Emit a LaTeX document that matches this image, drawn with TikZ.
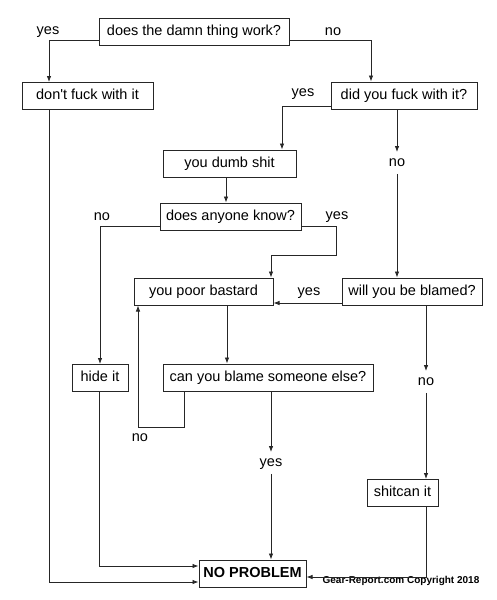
\documentclass[tikz,border=0pt]{standalone}
\usepackage{fontspec}
\setmainfont{Liberation Sans}
\usetikzlibrary{arrows.meta}

\def\questions{{(194,32)/work/190/does the damn thing work?}, {(87.5,96)/dont/131/don\textquotesingle t fuck with it}, {(404,95.5)/did/146/did you fuck with it?}, {(229.5,163.5)/dumb/133/you dumb shit}, {(230.5,216.5)/anyone/141/does anyone know?}, {(203.5,291.5)/poor/139/you poor bastard}, {(412,291.5)/blamed/140/will you be blamed?}, {(100,378)/hide/56/hide it}, {(268,377.5)/other/210/can you blame someone else?}, {(402.5,493)/shitcan/71/shitcan it}}
\def\answers{{(48,31)/work-yes/yes}, {(333,32)/work-no/no}, {(303,93)/did-yes/yes}, {(397,163)/did-no/no}, {(102,217)/anyone-no/no}, {(337,216)/anyone-yes/yes}, {(309,292)/blamed-yes/yes}, {(140,438)/other-no/no}, {(271,463)/other-yes/yes}, {(426,382)/blamed-no/no}}
\colorlet{line ink}{black!85}
\tikzstyle{question} = [draw=line ink, line width=1pt, minimum height=27pt, inner xsep=0pt, text height=10.5pt, text depth=3pt, font=\fontsize{14.5}{17}\selectfont]
\tikzstyle{answer} = [inner sep=4pt, text height=10.5pt, text depth=3pt, font=\fontsize{14.5}{17}\selectfont]
\tikzstyle{flow} = [draw=line ink, line width=0.8pt, -{Latex[length=6pt,width=4.5pt]}]

\begin{document}
\begin{tikzpicture}[x=1pt, y=-1pt]
  \useasboundingbox (0,0) rectangle (497,600);

  % The questions
  \foreach \pos/\name/\boxw/\words in \questions {
    \node[question, minimum width=\boxw pt] (\name) at \pos {\words};
  }
  \node[question, minimum width=107pt, font=\fontsize{14.5}{17}\selectfont\bfseries] (noprob) at (252.5,573.5) {NO PROBLEM};

  % the yes and no answers
  \foreach \pos/\name/\words in \answers {
    \node[answer] (\name) at \pos {\words};
  }
  \node[font=\fontsize{10}{12}\selectfont\bfseries] (credit) at (401,581) {Gear-Report.com Copyright 2018};

  % The way down
  \path[flow] ([yshift=-8pt]work.west) -| ([xshift=-38.5pt]dont.north);
  \path[flow] ([yshift=-8pt]work.east) -| ([xshift=-33pt]did.north);
  \path[flow] ([yshift=-10.5pt]did.west) -| ([xshift=52.5pt]dumb.north);
  \path[flow] ([xshift=-7pt]did.south) -- (did-no);
  \path[flow] (did-no) -- (did-no |- blamed.north);
  \path[flow] ([xshift=-3.5pt]dumb.south) -- ([xshift=-3.5pt]dumb.south |- anyone.north);
  \path[flow] ([yshift=-10pt]anyone.west) -| (hide.north);
  \path[flow] ([yshift=-10pt]anyone.east) -| ++(35,29) -| ([xshift=67.5pt]poor.north);
  \path[flow] ([yshift=-11.5pt]blamed.west) -- ([yshift=-11.5pt]poor.east);
  \path[flow] ([xshift=23.5pt]poor.south) -- ([xshift=23.5pt]poor.south |- other.north);
  \path[flow] ([xshift=-84pt]other.south) -- ++(0,36) -| ([xshift=-65.5pt]poor.south);
  \path[flow] ([xshift=3pt]other.south) -- (other-yes);
  \path[flow] (other-yes) -- (other-yes |- noprob.north);
  \path[flow] ([xshift=14pt]blamed.south) -- (blamed-no);
  \path[flow] (blamed-no) -- (blamed-no |- shitcan.north);

  % Everything ends up here
  \path[flow] ([xshift=23.5pt]shitcan.south) |- ([yshift=-3.5pt]noprob.east);
  \path[flow] ([xshift=-1pt]hide.south) |- ([yshift=7.5pt]noprob.west);
  \path[flow] ([xshift=-38.5pt]dont.south) |- ([yshift=-8.5pt]noprob.west);
\end{tikzpicture}
\end{document}
